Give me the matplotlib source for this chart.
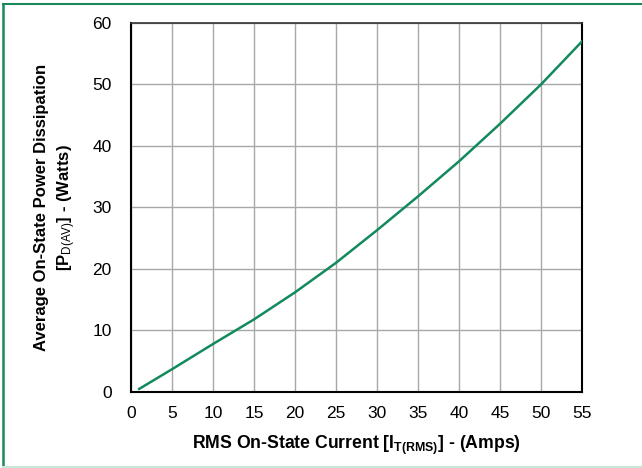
import matplotlib.pyplot as plt
from matplotlib.lines import Line2D

plt.rcParams['font.family'] = ['Liberation Sans', 'DejaVu Sans']
plt.rcParams['mathtext.fontset'] = 'custom'
plt.rcParams['mathtext.rm'] = 'Liberation Sans'
plt.rcParams['mathtext.it'] = 'Liberation Sans'
plt.rcParams['mathtext.bf'] = 'Liberation Sans:bold'

# RMS on-state current (A) vs average power dissipation (W)
current = [1, 5, 10, 15, 20, 25, 30, 35, 40, 45, 50, 55]
power = [0.5, 3.7, 7.8, 11.8, 16.2, 21.0, 26.3, 31.8, 37.5, 43.6, 50.0, 57.0]

x_ticks = list(range(0, 56, 5))
y_ticks = list(range(0, 61, 10))

fig = plt.figure(figsize=(6.42, 4.68), dpi=100)
ax = fig.add_axes([0.204, 0.1624, 0.7025, 0.7885])

ax.plot(current, power, color='#138a5c', lw=1.8, zorder=3)

ax.set_xlim(0, 55)
ax.set_ylim(0, 60)
ax.set_xticks(x_ticks)
ax.set_yticks(y_ticks)
ax.grid(True, color='#a8a8a8', lw=1)
ax.tick_params(length=0, labelsize=12.5, pad=10)
ax.tick_params(axis='y', pad=14)
for s in ax.spines.values():
    s.set_linewidth(1.5)
    s.set_color('black')
ax.spines['top'].set_color('#333333')
ax.spines['top'].set_linewidth(1.2)

ax.set_xlabel(r'RMS On-State Current [I$_{\mathbf{T(RMS)}}$] - (Amps)',
              fontsize=12.7, fontweight='bold', labelpad=9)
ax.set_ylabel('Average On-State Power Dissipation\n' + r'[P$_{D(AV)}$] - (Watts)',
              fontsize=12, fontweight='bold', labelpad=10, linespacing=1.45)

# figure frame
fig.add_artist(Line2D([3 / 642, 1], [1 - 4 / 468] * 2, color='#1a8a5a', lw=1.5))
fig.add_artist(Line2D([3 / 642] * 2, [1 / 468, 1 - 4 / 468], color='#1a8a5a', lw=1.8))
fig.add_artist(Line2D([3 / 642, 1], [1 / 468] * 2, color='#c6e6d8', lw=1.5))

fig.savefig('out.png', dpi=100)
